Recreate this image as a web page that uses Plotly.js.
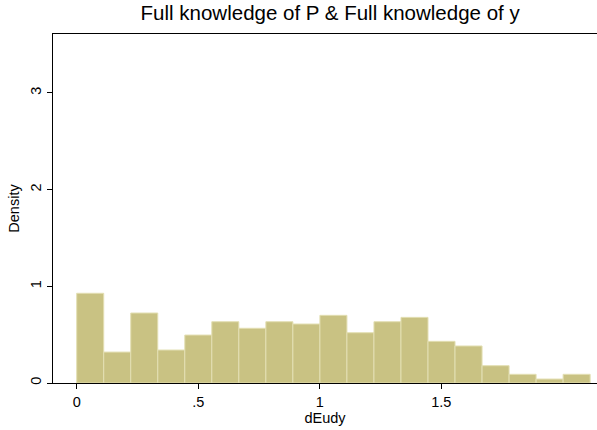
<!DOCTYPE html>
<html>
<head>
<meta charset="utf-8">
<script src="https://cdn.plot.ly/plotly-3.0.1.min.js"></script>
<style>html,body{margin:0;padding:0;background:#fff;}#chart{width:597px;height:430px;}</style>
</head>
<body>
<div id="chart"></div>
<script>
var binStart = 0;
var binWidth = 0.1112;
var density = [0.928, 0.32, 0.724, 0.341, 0.496, 0.634, 0.566, 0.634, 0.610, 0.700,
               0.520, 0.634, 0.679, 0.431, 0.383, 0.179, 0.090, 0.041, 0.090];
var xTickVals = [0, 0.5, 1, 1.5];
var xTickText = ['0', '.5', '1', '1.5'];
var yTickVals = [0, 1, 2, 3];
var yTickText = ['0', '1', '2', '3'];

var centers = density.map(function(_, i){ return binStart + binWidth * (i + 0.5); });

var trace = {
  type: 'bar',
  x: centers,
  y: density,
  width: binWidth,
  marker: {color: '#c9c283', line: {color: '#e3dfb3', width: 1}},
  hoverinfo: 'x+y'
};

var layout = {
  width: 597, height: 430,
  margin: {l: 53, r: 0, t: 34, b: 47},
  paper_bgcolor: '#ffffff', plot_bgcolor: '#ffffff',
  showlegend: false,
  font: {family: 'Liberation Sans, Arial, sans-serif', color: '#000'},
  title: {text: 'Full knowledge of P & Full knowledge of y', font: {size: 20.5, color: '#000'},
          x: 0.553, xanchor: 'center', y: 0.97, yanchor: 'middle'},
  xaxis: {
    range: [-0.0975, 2.141], showgrid: false, zeroline: false,
    showline: true, linecolor: '#000', linewidth: 1.3, mirror: true,
    ticks: 'outside', ticklen: 5, tickwidth: 1, tickcolor: '#000',
    tickvals: xTickVals, ticktext: xTickText, tickfont: {size: 14.5},
    title: {text: 'dEudy', font: {size: 14.5}, standoff: 1}
  },
  yaxis: {
    range: [0, 3.61], showgrid: false, zeroline: false,
    showline: true, linecolor: '#000', linewidth: 1.3,
    ticks: 'outside', ticklen: 5, tickwidth: 1, tickcolor: '#000',
    tickvals: yTickVals, ticktext: yTickText, tickfont: {size: 14.5}, tickangle: -90,
    title: {text: 'Density', font: {size: 14.5}, standoff: 4}
  },
  bargap: 0
};

Plotly.newPlot('chart', [trace], layout, {displayModeBar: false, staticPlot: true});
</script>
</body>
</html>
